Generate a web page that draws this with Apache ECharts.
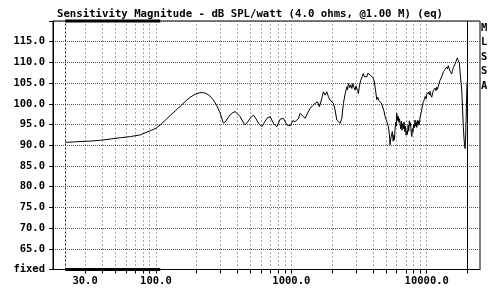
<!DOCTYPE html>
<html>
<head>
<meta charset="utf-8">
<script src="https://cdn.jsdelivr.net/npm/echarts@6/dist/echarts.min.js"></script>
<style>
html,body{margin:0;padding:0;background:#fff;}
#c{width:500px;height:294px;}
</style>
</head>
<body>
<div id="c"></div>
<script>
const titleText = 'Sensitivity Magnitude - dB SPL/watt (4.0 ohms, @1.00 M) (eq)';
const sideText = ['M','L','S','S','A'];

const freqs = [21.4,25,27.6,33,38.8,46,54.5,65,76.6,90.8,100,107.6,117,127.5,140,151,165,179,195,212,225,238,250,265,280,298,306,314,325,340,353,370,385,400,419,440,456,475,497,525,548,572,606,630,660,698,738,782,827,875,927,980,1026,1067,1128,1161,1195,1264,1320,1377,1440,1499,1558,1611,1679,1726,1776,1828,1879,1933,1991,2046,2105,2166,2228,2292,2359,2424,2500,2568,2600,2638,2700,2748,2800,2843,2900,2957,3000,3043,3090,3128,3190,3258,3330,3404,3450,3500,3550,3606,3680,3768,3850,3927,4000,4083,4180,4275,4350,4420,4520,4620,4734,4830,4925,5050,5208,5300,5360,5450,5572,5650,5700,5766,5830,5900,5950,6006,6080,6150,6220,6290,6353,6420,6490,6560,6640,6718,6800,6880,6960,7040,7117,7200,7280,7360,7440,7530,7600,7680,7749,7830,7910,8000,8090,8197,8290,8360,8437,8530,8620,8700,8800,8926,9050,9200,9300,9441,9600,9750,9900,10000,10150,10300,10450,10577,10700,10889,11050,11200,11350,11518,11700,11850,12000,12178,12350,12500,12700,12904,13100,13300,13500,13650,13850,14050,14250,14430,14650,14850,15050,15295,15500,15750,15950,16180,16400,16600,16830,17050,17250,17400,17700,18130,18400,18620,18900,19180,19350,19550,19700,19850];
const spl = [90.7,90.8,90.9,91.0,91.2,91.5,91.8,92.1,92.5,93.5,94.1,94.9,96.0,97.2,98.4,99.4,100.6,101.6,102.3,102.7,102.7,102.4,101.9,101.0,99.7,97.8,96.6,95.4,95.6,96.6,97.3,97.9,98.1,97.6,96.9,95.6,94.9,95.6,96.5,97.3,96.4,95.3,94.5,95.4,96.5,96.9,95.3,94.5,96.3,96.5,94.9,94.7,95.9,95.7,96.5,97.7,97.3,96.5,97.8,98.9,99.6,100.1,100.5,99.3,101.3,102.9,102.1,102.9,101.7,100.9,101.3,100.1,98.5,96.1,95.7,95.3,96.5,100.1,102.5,104.1,103.4,104.9,103.9,104.6,103.7,104.9,104.0,103.3,104.3,104.0,103.2,102.5,104.5,105.7,106.5,107.3,106.6,107.0,106.2,106.5,107.4,107.5,106.9,107.1,106.3,105.7,103.5,101.0,101.6,100.8,100.9,100.2,99.8,98.3,96.9,95.9,94.5,92.5,90.1,92.0,93.3,91.0,92.4,91.3,93.8,95.5,94.6,97.7,96.0,97.0,95.5,96.4,95.2,94.0,95.8,93.6,95.2,94.0,95.6,93.3,94.6,92.4,93.5,92.6,94.8,93.4,95.9,94.6,95.4,93.0,92.1,94.0,93.2,95.0,94.2,96.1,94.6,95.6,94.3,96.0,94.8,95.9,95.1,96.7,97.6,98.6,99.8,100.5,101.0,101.8,101.2,102.3,101.9,102.8,102.2,103.0,102.1,101.6,102.7,103.2,102.9,103.8,103.2,104.0,103.5,104.3,104.9,105.6,106.0,106.6,107.2,107.8,107.6,108.3,108.0,108.9,108.4,109.2,108.5,107.9,107.5,107.2,108.1,108.8,108.6,109.6,110.0,110.6,111.1,110.5,110.9,109.9,107.0,103.3,98.5,94.5,91.0,89.2,91.5,97.0,101.5,105.2];

const gridFreqs = [30,40,50,60,70,80,90,100,200,300,400,500,600,700,800,900,1000,2000,3000,4000,5000,6000,7000,8000,9000,10000];
const tickFreqs = [30,40,50,60,70,80,90,100,200,300,400,500,600,700,800,900,1000,2000,3000,4000,5000,6000,7000,8000,9000,10000,20000];
const labelFreqs = [30,100,1000,10000];
const startFreq = 21.4;
const limitFreq = 20000;
const bandFreqs = [21.4, 107.6];
const bandLevels = [120, 60];
const xMin = 17.38, xMax = 24730;
const yMin = 60, yMax = 120, yStep = 5;

const font = 'DejaVu Sans Mono';
const chart = echarts.init(document.getElementById('c'), null, {renderer:'canvas'});

const series = [
  {
    type:'line', data: freqs.map((f,i)=>[f, spl[i]]), showSymbol:false, symbol:'none',
    lineStyle:{color:'#000', width:1}, animation:false, z:5,
    markLine:{
      silent:true, symbol:'none', animation:false, label:{show:false},
      data: gridFreqs.map(f=>({xAxis:f, lineStyle:{color:'#555', width:1, type:[1,3]}}))
        .concat([{xAxis:startFreq, lineStyle:{color:'#222', width:1, type:[2,2]}},
                 {xAxis:limitFreq, lineStyle:{color:'#000', width:1, type:'solid'}}])
    }
  }
].concat(bandLevels.map(lv=>({
  type:'line', data: bandFreqs.map(f=>[f, lv]), symbol:'none', clip:false,
  lineStyle:{color:'#000', width:3}, animation:false, z:6
})));

chart.setOption({
  animation:false,
  title:{text:titleText, left:'center', top:4, textStyle:{fontFamily:font, fontWeight:'bold', fontSize:10.7, color:'#000'}},
  grid:{left:53, right:20, top:21, bottom:24.5, show:true, borderColor:'#000', borderWidth:1, backgroundColor:'transparent'},
  xAxis:{
    type:'log', logBase:10, min:xMin, max:xMax,
    axisLine:{show:true, lineStyle:{color:'#000'}},
    axisTick:{show:true, length:4, lineStyle:{color:'#000'}, customValues: tickFreqs},
    axisLabel:{show:true, margin:6, fontFamily:font, fontWeight:'bold', fontSize:10.5, color:'#000', customValues: labelFreqs,
      formatter:(v)=>Number(v).toFixed(1)},
    splitLine:{show:false}, minorTick:{show:false}, minorSplitLine:{show:false}
  },
  yAxis:{
    type:'value', min:yMin, max:yMax, interval:yStep,
    axisLine:{show:true, lineStyle:{color:'#000'}},
    axisTick:{show:true, length:4, lineStyle:{color:'#000'}},
    axisLabel:{margin:8, fontFamily:font, fontWeight:'bold', fontSize:10.5, color:'#000',
      formatter:(v)=> v===yMin ? 'fixed' : (v===yMax ? '' : v.toFixed(1))},
    splitLine:{show:true, lineStyle:{color:'#555', width:1, type:[1,1]}}
  },
  graphic:[{type:'text', left:481, top:21, style:{text:sideText.join('\n'), font:'bold 10.5px "DejaVu Sans Mono"', fill:'#000', lineHeight:14.5}}],
  series: series
});
</script>
</body>
</html>
